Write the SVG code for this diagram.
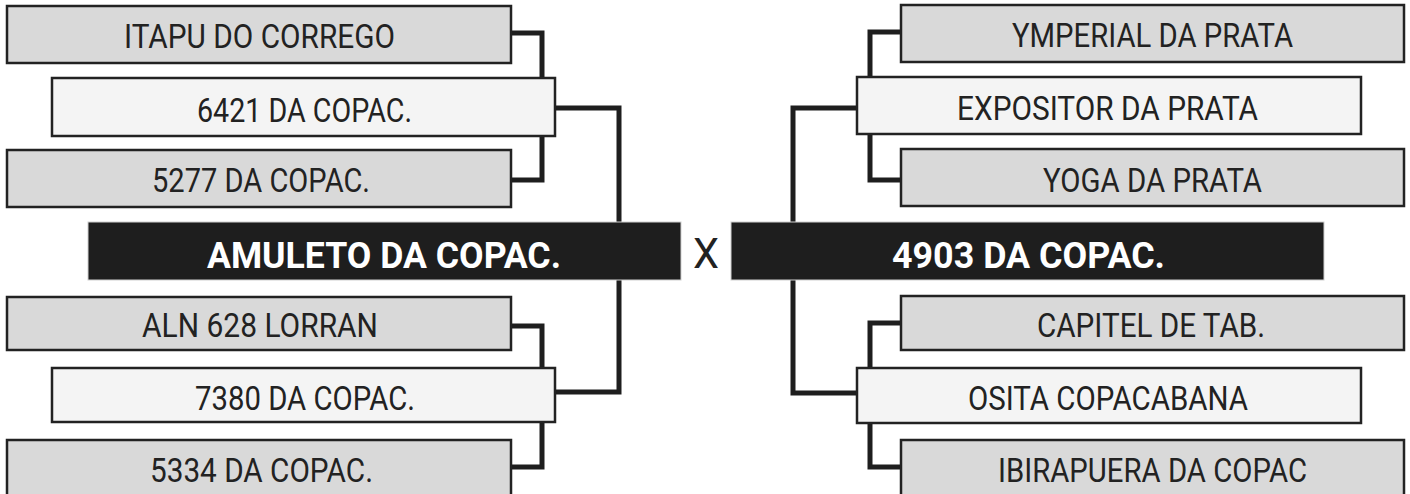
<svg xmlns="http://www.w3.org/2000/svg" width="1410" height="494" viewBox="0 0 1410 494">
<style>
.bg{fill:#ffffff}
.conn{fill:none;stroke:#1e1e1e;stroke-width:5;stroke-linejoin:miter;stroke-linecap:butt}
.gray{fill:#d9d9d9;stroke:#222222;stroke-width:2.5}
.light{fill:#f4f4f4;stroke:#222222;stroke-width:2.5}
.main{fill:#1e1e1e;stroke:#d0d0d0;stroke-width:1}
.t{font-family:Roboto,"Liberation Sans",sans-serif;font-size:33px;font-weight:400;fill:#222222;text-anchor:middle}
.tm{font-family:Roboto,"Liberation Sans",sans-serif;font-size:37px;font-weight:bold;fill:#ffffff;text-anchor:middle}
.x{font-family:Roboto,"Liberation Sans",sans-serif;font-size:42px;fill:#222222;text-anchor:middle}
</style>
<rect class="bg" x="0" y="0" width="1410" height="494"/>
<g id="connectors">
<path class="conn" d="M511,33 H542 V78"/>
<path class="conn" d="M542,136 V180 H511"/>
<path class="conn" d="M555,108 H619 V222"/>
<path class="conn" d="M511,326 H542 V368"/>
<path class="conn" d="M542,422 V467 H511"/>
<path class="conn" d="M555,392 H619 V280"/>
<path class="conn" d="M901,32 H870 V77"/>
<path class="conn" d="M870,134 V180 H901"/>
<path class="conn" d="M857,108 H793 V222"/>
<path class="conn" d="M901,323 H870 V368"/>
<path class="conn" d="M870,423 V467 H901"/>
<path class="conn" d="M857,393 H793 V280"/>
</g>
<g id="itapu"><rect class="gray" x="7" y="6" width="504" height="57"/><text class="t" x="259.5" y="48" textLength="271" lengthAdjust="spacingAndGlyphs">ITAPU DO CORREGO</text></g>
<g id="c6421"><rect class="light" x="52" y="78" width="503" height="58"/><text class="t" x="304.5" y="122" textLength="215" lengthAdjust="spacingAndGlyphs">6421 DA COPAC.</text></g>
<g id="c5277"><rect class="gray" x="7" y="150" width="504" height="57"/><text class="t" x="261" y="192" textLength="218" lengthAdjust="spacingAndGlyphs">5277 DA COPAC.</text></g>
<g id="amuleto"><rect class="main" x="88" y="222" width="593" height="58"/><text class="tm" x="384" y="268" textLength="354" lengthAdjust="spacingAndGlyphs">AMULETO DA COPAC.</text></g>
<g id="aln"><rect class="gray" x="7" y="297" width="504" height="53"/><text class="t" x="260" y="337" textLength="236" lengthAdjust="spacingAndGlyphs">ALN 628 LORRAN</text></g>
<g id="c7380"><rect class="light" x="52" y="368" width="503" height="54"/><text class="t" x="305" y="410" textLength="220" lengthAdjust="spacingAndGlyphs">7380 DA COPAC.</text></g>
<g id="c5334"><rect class="gray" x="7" y="440" width="504" height="62"/><text class="t" x="261.5" y="482" textLength="223" lengthAdjust="spacingAndGlyphs">5334 DA COPAC.</text></g>
<g id="vs"><text class="x" x="706" y="268" textLength="26" lengthAdjust="spacingAndGlyphs">X</text></g>
<g id="ymperial"><rect class="gray" x="901" y="5" width="503" height="57"/><text class="t" x="1152.5" y="47" textLength="281" lengthAdjust="spacingAndGlyphs">YMPERIAL DA PRATA</text></g>
<g id="expositor"><rect class="light" x="857" y="77" width="504" height="57"/><text class="t" x="1107.5" y="120" textLength="301" lengthAdjust="spacingAndGlyphs">EXPOSITOR DA PRATA</text></g>
<g id="yoga"><rect class="gray" x="901" y="149" width="503" height="57"/><text class="t" x="1152.5" y="192" textLength="219" lengthAdjust="spacingAndGlyphs">YOGA DA PRATA</text></g>
<g id="c4903"><rect class="main" x="731" y="222" width="593" height="58"/><text class="tm" x="1028.5" y="268" textLength="273" lengthAdjust="spacingAndGlyphs">4903 DA COPAC.</text></g>
<g id="capitel"><rect class="gray" x="901" y="296" width="503" height="54"/><text class="t" x="1151" y="337" textLength="228" lengthAdjust="spacingAndGlyphs">CAPITEL DE TAB.</text></g>
<g id="osita"><rect class="light" x="857" y="368" width="504" height="55"/><text class="t" x="1108" y="410" textLength="280" lengthAdjust="spacingAndGlyphs">OSITA COPACABANA</text></g>
<g id="ibirapuera"><rect class="gray" x="901" y="440" width="503" height="62"/><text class="t" x="1152.5" y="482" textLength="309" lengthAdjust="spacingAndGlyphs">IBIRAPUERA DA COPAC</text></g>
</svg>
